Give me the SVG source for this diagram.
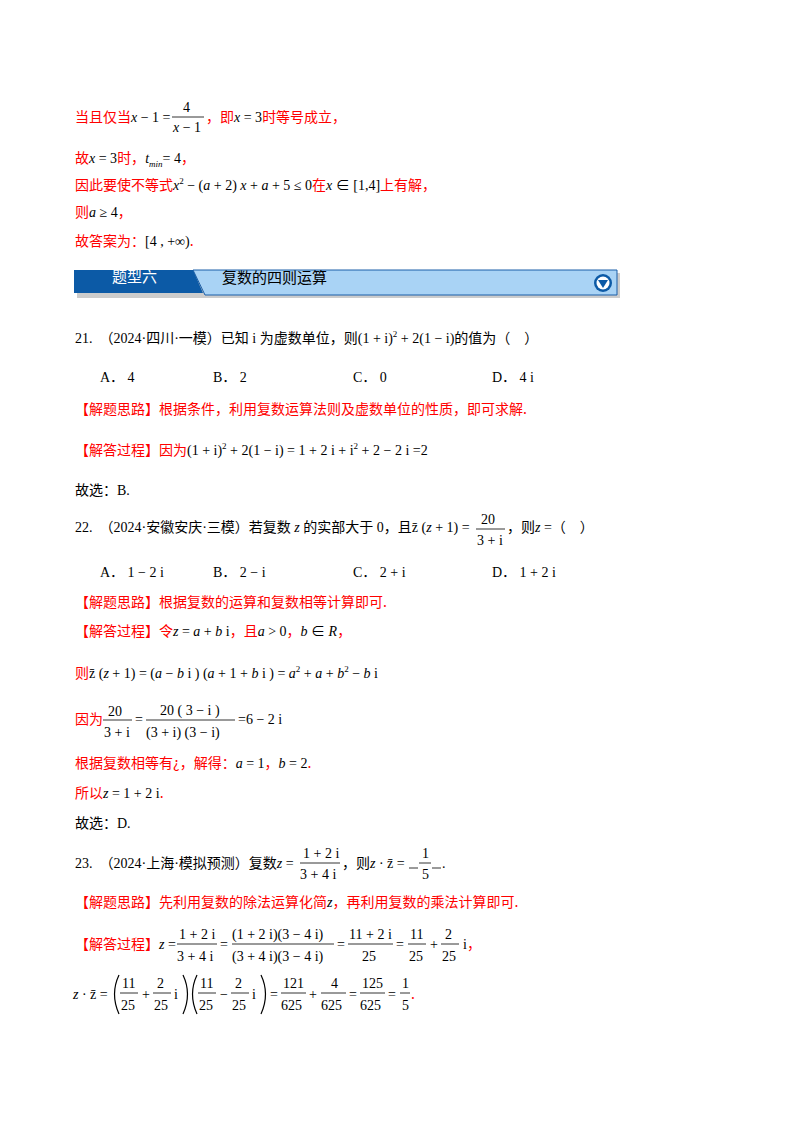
<svg xmlns="http://www.w3.org/2000/svg" width="800" height="1132" viewBox="0 0 800 1132">
<style>
text{font-family:"Liberation Serif","Noto Sans CJK SC",serif;font-size:14px;fill:#000}
.r{fill:#f00;font-family:"Noto Sans CJK SC",sans-serif}
.i{font-style:italic}
.s{font-size:9px}
.bl{stroke:#000;stroke-width:0.8}
.p{fill:none;stroke:#000;stroke-width:1.2}
</style>
<rect width="800" height="1132" fill="#fff"/>
<g id="sec1">
<text x="75" y="122"><tspan class="r">当且仅当</tspan><tspan class="i">x</tspan> − 1 =</text>
<text x="183" y="112">4</text><line class="bl" x1="172" y1="117" x2="204" y2="117"/><text x="173" y="132"><tspan class="i">x</tspan> − 1</text>
<text x="206" y="122"><tspan class="r">，即</tspan><tspan class="i">x</tspan> = 3<tspan class="r">时等号成立，</tspan></text>
<text x="75" y="163"><tspan class="r">故</tspan><tspan class="i">x</tspan> = 3<tspan class="r">时，</tspan><tspan class="i">t</tspan><tspan class="i s" dy="4">min</tspan><tspan dy="-4">= 4</tspan><tspan class="r">，</tspan></text>
<text x="75" y="190"><tspan class="r">因此要使不等式</tspan><tspan class="i">x</tspan><tspan class="s" dy="-6">2</tspan><tspan dy="6"> − (</tspan><tspan class="i">a</tspan> + 2) <tspan class="i">x</tspan> + <tspan class="i">a</tspan> + 5 ≤ 0<tspan class="r">在</tspan><tspan class="i">x</tspan> ∈ [1,4]<tspan class="r">上有解，</tspan></text>
<text x="75" y="217"><tspan class="r">则</tspan><tspan class="i">a</tspan> ≥ 4<tspan class="r">，</tspan></text>
<text x="75" y="246"><tspan class="r">故答案为：</tspan>[4 , +∞)<tspan class="r">.</tspan></text>
</g>
<g id="banner">
<rect x="77" y="273" width="543" height="25" fill="#999" opacity="0.5"/>
<path d="M193 270 L617 270 L617 295 L205 295 Z" fill="#a9d3f5" stroke="#1a5ea8" stroke-width="1"/>
<path d="M74 270 L193 270 L203 293 L74 293 Z" fill="#0c5aa6"/>
<text x="112" y="282" style="fill:#fff;font-family:'Noto Sans CJK SC',sans-serif;font-size:15px">题型六</text>
<text x="222" y="283" style="font-family:'Noto Sans CJK SC',sans-serif;font-size:15px">复数的四则运算</text>
<circle cx="603" cy="283" r="9" fill="#0c5aa6"/><circle cx="603" cy="283" r="6.5" fill="#fff"/>
<path d="M598 280 L608 280 L603 288 Z" fill="#0c5aa6"/>
</g>
<g id="q21">
<text x="75" y="343">21.　（2024·四川·一模）已知 i 为虚数单位，则(1 + i)<tspan class="s" dy="-6">2</tspan><tspan dy="6"> + 2(1 − i)的值为（　）</tspan></text>
<text x="100" y="382">A． 4</text><text x="213" y="382">B． 2</text><text x="353" y="382">C． 0</text><text x="492" y="382">D． 4 i</text>
<text x="75" y="414" class="r">【解题思路】根据条件，利用复数运算法则及虚数单位的性质，即可求解.</text>
<text x="75" y="455"><tspan class="r">【解答过程】因为</tspan>(1 + i)<tspan class="s" dy="-6">2</tspan><tspan dy="6"> + 2(1 − i) = 1 + 2 i + i</tspan><tspan class="s" dy="-6">2</tspan><tspan dy="6"> + 2 − 2 i =2</tspan></text>
<text x="75" y="495">故选：B.</text>
</g>
<g id="q22">
<text x="75" y="532">22.　（2024·安徽安庆·三模）若复数 <tspan class="i">z</tspan> 的实部大于 0，且z̄ (<tspan class="i">z</tspan> + 1) =</text>
<text x="481" y="524">20</text><line class="bl" x1="476" y1="529" x2="505" y2="529"/><text x="477" y="545">3 + i</text>
<text x="507" y="532">，则<tspan class="i">z</tspan> =（　）</text>
<text x="100" y="577">A． 1 − 2 i</text><text x="213" y="577">B． 2 − i</text><text x="353" y="577">C． 2 + i</text><text x="492" y="577">D． 1 + 2 i</text>
<text x="75" y="607" class="r">【解题思路】根据复数的运算和复数相等计算即可.</text>
<text x="75" y="636"><tspan class="r">【解答过程】令</tspan><tspan class="i">z</tspan> = <tspan class="i">a</tspan> + <tspan class="i">b</tspan> i<tspan class="r">，且</tspan><tspan class="i">a</tspan> &gt; 0<tspan class="r">，</tspan><tspan class="i">b</tspan> ∈ <tspan class="i">R</tspan><tspan class="r">，</tspan></text>
<text x="75" y="678"><tspan class="r">则</tspan>z̄ (<tspan class="i">z</tspan> + 1) = (<tspan class="i">a</tspan> − <tspan class="i">b</tspan> i ) (<tspan class="i">a</tspan> + 1 + <tspan class="i">b</tspan> i ) = <tspan class="i">a</tspan><tspan class="s" dy="-6">2</tspan><tspan dy="6"> + </tspan><tspan class="i">a</tspan> + <tspan class="i">b</tspan><tspan class="s" dy="-6">2</tspan><tspan dy="6"> − </tspan><tspan class="i">b</tspan> i</text>
<text x="75" y="724" class="r">因为</text>
<text x="108" y="716">20</text><line class="bl" x1="103" y1="720" x2="132" y2="720"/><text x="104" y="737">3 + i</text>
<text x="135" y="724">=</text>
<text x="160" y="715">20 ( 3 − i )</text><line class="bl" x1="146" y1="720" x2="235" y2="720"/><text x="146" y="737">(3 + i) (3 − i)</text>
<text x="238" y="724">=6 − 2 i</text>
<text x="75" y="768"><tspan class="r">根据复数相等有¿，解得：</tspan><tspan class="i">a</tspan> = 1<tspan class="r">，</tspan><tspan class="i">b</tspan> = 2<tspan class="r">.</tspan></text>
<text x="75" y="798"><tspan class="r">所以</tspan><tspan class="i">z</tspan> = 1 + 2 i<tspan class="r">.</tspan></text>
<text x="75" y="828">故选：D.</text>
</g>
<g id="q23">
<text x="75" y="868">23.　（2024·上海·模拟预测）复数<tspan class="i">z</tspan> =</text>
<text x="303" y="858">1 + 2 i</text><line class="bl" x1="300" y1="863" x2="340" y2="863"/><text x="300" y="879">3 + 4 i</text>
<text x="342" y="868">，则<tspan class="i">z</tspan>  · z̄ =</text>
<line class="bl" x1="409" y1="868" x2="418" y2="868"/><line class="bl" x1="432" y1="868" x2="441" y2="868"/><text x="422" y="858">1</text><line class="bl" x1="419" y1="863" x2="431" y2="863"/><text x="422" y="879">5</text><text x="442" y="868">.</text>
<text x="75" y="907" class="r">【解题思路】先利用复数的除法运算化简<tspan style="fill:#000;font-family:'Liberation Serif'" class="i">z</tspan>，再利用复数的乘法计算即可.</text>
<text x="75" y="949"><tspan class="r">【解答过程】</tspan><tspan class="i">z</tspan> =</text>
<text x="179" y="939">1 + 2 i</text><line class="bl" x1="177" y1="944" x2="217" y2="944"/><text x="177" y="961">3 + 4 i</text>
<text x="220" y="949">=</text>
<text x="232" y="939">(1 + 2 i)(3 − 4 i)</text><line class="bl" x1="232" y1="944" x2="334" y2="944"/><text x="232" y="961">(3 + 4 i)(3 − 4 i)</text>
<text x="337" y="949">=</text>
<text x="349" y="939">11 + 2 i</text><line class="bl" x1="348" y1="944" x2="393" y2="944"/><text x="362" y="961">25</text>
<text x="396" y="949">=</text>
<text x="410" y="939">11</text><line class="bl" x1="408" y1="944" x2="426" y2="944"/><text x="409" y="961">25</text>
<text x="430" y="949">+</text>
<text x="445" y="939">2</text><line class="bl" x1="441" y1="944" x2="459" y2="944"/><text x="442" y="961">25</text>
<text x="463" y="949">i<tspan class="r">，</tspan></text>
<text x="73" y="999"><tspan class="i">z</tspan>  · z̄ =</text>
<path class="p" d="M119 975 Q110 994 119 1014"/>
<text x="122" y="988">11</text><line class="bl" x1="120" y1="993" x2="138" y2="993"/><text x="121" y="1010">25</text>
<text x="142" y="999">+</text>
<text x="157" y="988">2</text><line class="bl" x1="153" y1="993" x2="171" y2="993"/><text x="154" y="1010">25</text>
<text x="174" y="999">i</text>
<path class="p" d="M183 975 Q192 994 183 1014"/>
<path class="p" d="M197 975 Q188 994 197 1014"/>
<text x="200" y="988">11</text><line class="bl" x1="198" y1="993" x2="216" y2="993"/><text x="199" y="1010">25</text>
<text x="220" y="999">−</text>
<text x="235" y="988">2</text><line class="bl" x1="231" y1="993" x2="249" y2="993"/><text x="232" y="1010">25</text>
<text x="252" y="999">i</text>
<path class="p" d="M261 975 Q270 994 261 1014"/>
<text x="270" y="999">=</text>
<text x="283" y="988">121</text><line class="bl" x1="281" y1="993" x2="306" y2="993"/><text x="281" y="1010">625</text>
<text x="309" y="999">+</text>
<text x="331" y="988">4</text><line class="bl" x1="321" y1="993" x2="346" y2="993"/><text x="321" y="1010">625</text>
<text x="349" y="999">=</text>
<text x="362" y="988">125</text><line class="bl" x1="360" y1="993" x2="385" y2="993"/><text x="360" y="1010">625</text>
<text x="388" y="999">=</text>
<text x="402" y="988">1</text><line class="bl" x1="400" y1="993" x2="410" y2="993"/><text x="402" y="1010">5</text>
<text x="411" y="999" class="r">.</text>
</g>
</svg>
